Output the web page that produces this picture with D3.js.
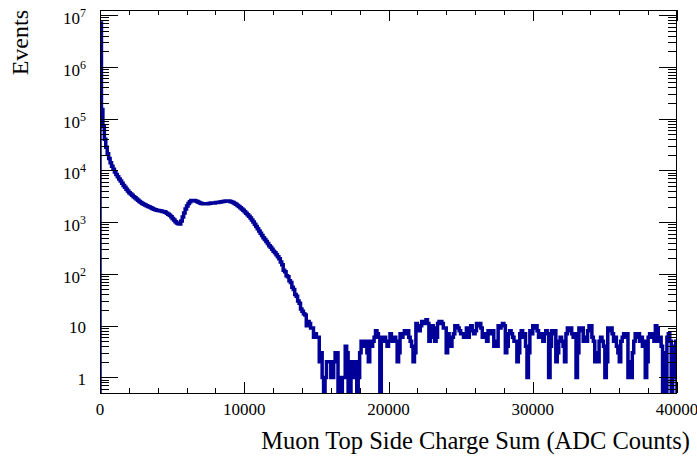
<!DOCTYPE html>
<html>
<head>
<meta charset="utf-8">
<script src="https://cdn.jsdelivr.net/npm/d3@7"></script>
<style>
  body { margin: 0; background: #fff; }
  svg text { font-family: "Liberation Serif", "Times New Roman", serif; fill: #000; }
</style>
</head>
<body>
<svg width="697" height="457"></svg>
<script>
// histogram: 400 bins between 0 and 40000 ADC counts
var xMin = 0, xMax = 40000;
var counts = [
  7000000, 150000, 70000, 40000, 28000, 21000, 17000, 14000, 12000, 10500,
  9300, 8300, 7500, 6800, 6200, 5600, 5100, 4700, 4300, 4000,
  3700, 3500, 3300, 3100, 2950, 2800, 2650, 2500, 2400, 2300,
  2220, 2150, 2080, 2000, 1950, 1900, 1840, 1780, 1740, 1700,
  1670, 1650, 1640, 1600, 1580, 1550, 1490, 1420, 1350, 1270,
  1180, 1100, 1020, 960, 930, 920, 1050, 1250, 1500, 1800,
  2050, 2300, 2480, 2600, 2620, 2600, 2550, 2500, 2420, 2350,
  2300, 2250, 2250, 2250, 2270, 2300, 2320, 2330, 2340, 2350,
  2380, 2400, 2430, 2450, 2480, 2500, 2530, 2550, 2560, 2550,
  2500, 2450, 2380, 2300, 2200, 2100, 2000, 1900, 1800, 1700,
  1590, 1480, 1390, 1300, 1200, 1100, 1000, 910, 820, 740,
  670, 610, 550, 500, 460, 420, 385, 350, 325, 300,
  275, 255, 235, 215, 195, 170, 150, 118, 110, 92,
  88, 74, 68, 55, 50, 40, 37, 30, 27, 21,
  19, 17, 16, 10, 12, 11, 9, 9, 6, 7,
  6, 6, 2, 3, 1, 0, 1, 2, 2, 2,
  1, 1, 2, 3, 3, 0, 1, 0, 1, 1,
  4, 3, 0, 0, 2, 1, 2, 2, 0, 1,
  3, 5, 4, 5, 5, 3, 2, 5, 4, 5,
  6, 8, 7, 6, 0, 6, 5, 6, 5, 4,
  5, 7, 6, 5, 6, 5, 2, 3, 7, 6,
  7, 8, 7, 8, 6, 5, 4, 2, 3, 11,
  10, 8, 10, 12, 11, 12, 13, 11, 5, 6,
  10, 9, 5, 6, 11, 12, 12, 11, 9, 9,
  3, 7, 5, 4, 6, 7, 10, 10, 9, 8,
  7, 7, 6, 6, 9, 6, 8, 10, 8, 7,
  8, 11, 10, 11, 9, 6, 7, 6, 5, 8,
  8, 7, 8, 4, 5, 4, 10, 9, 10, 11,
  10, 3, 4, 7, 8, 7, 6, 5, 5, 2,
  3, 7, 8, 6, 7, 4, 1, 3, 8, 7,
  10, 9, 10, 8, 6, 7, 6, 5, 7, 8,
  7, 1, 4, 8, 7, 8, 2, 3, 5, 6,
  5, 4, 2, 7, 9, 8, 9, 7, 6, 7,
  1, 3, 9, 8, 9, 5, 6, 5, 8, 10,
  10, 6, 5, 2, 3, 2, 5, 6, 5, 4,
  1, 2, 9, 8, 9, 7, 5, 6, 4, 3,
  2, 5, 6, 7, 6, 7, 1, 2, 1, 3,
  5, 7, 6, 7, 5, 6, 4, 5, 1, 2,
  6, 7, 6, 7, 5, 10, 9, 5, 6, 4,
  0, 3, 0, 6, 7, 5, 0, 4, 1, 5
];

var xMajor = [0, 10000, 20000, 30000, 40000];
var xMajorLabels = ["0", "10000", "20000", "30000", "40000"];
var yMajor = [1, 10, 100, 1e3, 1e4, 1e5, 1e6, 1e7];
// [base, exponent]
var yMajorLabels = [["1", ""], ["10", ""], ["10", "2"], ["10", "3"], ["10", "4"], ["10", "5"], ["10", "6"], ["10", "7"]];
var yMin = 0.5, yMax = 1.25e7;

var xTitle = "Muon Top Side Charge Sum (ADC Counts)";
var yTitle = "Events";

var frame = {left: 100, right: 677, top: 10, bottom: 393};
var lineColor = "#000099";

var svg = d3.select("svg");

var x = d3.scaleLinear().domain([xMin, xMax]).range([frame.left, frame.right]);
var y = d3.scaleLog().domain([yMin, yMax]).range([frame.bottom, frame.top]);

// empty bins go to the bottom of the frame on a log scale
function yc(v) {
  return v > 0 ? y(v) : frame.bottom + 3;
}

var binW = (xMax - xMin) / counts.length;
var pts = [[xMin, 0]];
counts.forEach(function(c, i) {
  pts.push([xMin + i * binW, c]);
  pts.push([xMin + (i + 1) * binW, c]);
});
pts.push([xMax, 0]);

svg.append("clipPath").attr("id", "fr")
  .append("rect")
  .attr("x", frame.left).attr("y", frame.top)
  .attr("width", frame.right - frame.left)
  .attr("height", frame.bottom - frame.top);

svg.append("path")
  .datum(pts)
  .attr("clip-path", "url(#fr)")
  .attr("fill", "none")
  .attr("stroke", lineColor)
  .attr("stroke-width", 3.5)
  .attr("d", d3.line()
    .x(function(d) { return x(d[0]); })
    .y(function(d) { return yc(d[1]); }));

// minor tick positions
var xMinor = d3.range(xMin, xMax + 1, 2000).filter(function(v) { return v % 10000 !== 0; });
var yMinor = [];
d3.range(-1, 8).forEach(function(k) {
  d3.range(2, 10).forEach(function(m) {
    var v = m * Math.pow(10, k);
    if (v >= yMin && v <= yMax) yMinor.push(v);
  });
});

function cleanAxis(g) {
  g.select(".domain").remove();
  g.selectAll(".tick line").attr("stroke", "#000").attr("shape-rendering", "crispEdges");
  g.selectAll("text").remove();
}

// bottom + top
[[frame.bottom, d3.axisBottom], [frame.top, d3.axisTop]].forEach(function(a) {
  svg.append("g").attr("transform", "translate(0," + a[0] + ")")
    .call(a[1](x).tickValues(xMajor).tickSize(-11)).call(cleanAxis);
  svg.append("g").attr("transform", "translate(0," + a[0] + ")")
    .call(a[1](x).tickValues(xMinor).tickSize(-5)).call(cleanAxis);
});

// left + right
[[frame.left, d3.axisLeft], [frame.right, d3.axisRight]].forEach(function(a) {
  svg.append("g").attr("transform", "translate(" + a[0] + ",0)")
    .call(a[1](y).tickValues(yMajor).tickSize(-18)).call(cleanAxis);
  svg.append("g").attr("transform", "translate(" + a[0] + ",0)")
    .call(a[1](y).tickValues(yMinor).tickSize(-9)).call(cleanAxis);
});

svg.append("rect")
  .attr("x", frame.left + 0.5).attr("y", frame.top + 0.5)
  .attr("width", frame.right - frame.left - 1)
  .attr("height", frame.bottom - frame.top)
  .attr("fill", "none").attr("stroke", "#000").attr("stroke-width", 1);

// x labels
svg.selectAll("text.xl")
  .data(xMajor)
  .enter().append("text")
  .attr("class", "xl")
  .attr("x", function(d) { return x(d); })
  .attr("y", 415)
  .attr("text-anchor", "middle")
  .style("font-size", "17px")
  .text(function(d, i) { return xMajorLabels[i]; });

// y labels with exponents
var yl = svg.selectAll("text.yl")
  .data(yMajor)
  .enter().append("text")
  .attr("class", "yl")
  .attr("x", 86)
  .attr("y", function(d, i) { return y(d) + (yMajorLabels[i][1] ? 9 : 7.5); })
  .attr("text-anchor", "end")
  .style("font-size", "17px");
yl.append("tspan").text(function(d, i) { return yMajorLabels[i][0]; });
yl.append("tspan")
  .attr("dy", -7)
  .style("font-size", "12px")
  .text(function(d, i) { return yMajorLabels[i][1]; });

// titles
svg.append("text")
  .attr("x", 690).attr("y", 449)
  .attr("text-anchor", "end")
  .style("font-size", "24.5px")
  .text(xTitle);

svg.append("text")
  .attr("transform", "translate(28,10) rotate(-90)")
  .attr("text-anchor", "end")
  .style("font-size", "24px")
  .text(yTitle);
</script>
</body>
</html>
